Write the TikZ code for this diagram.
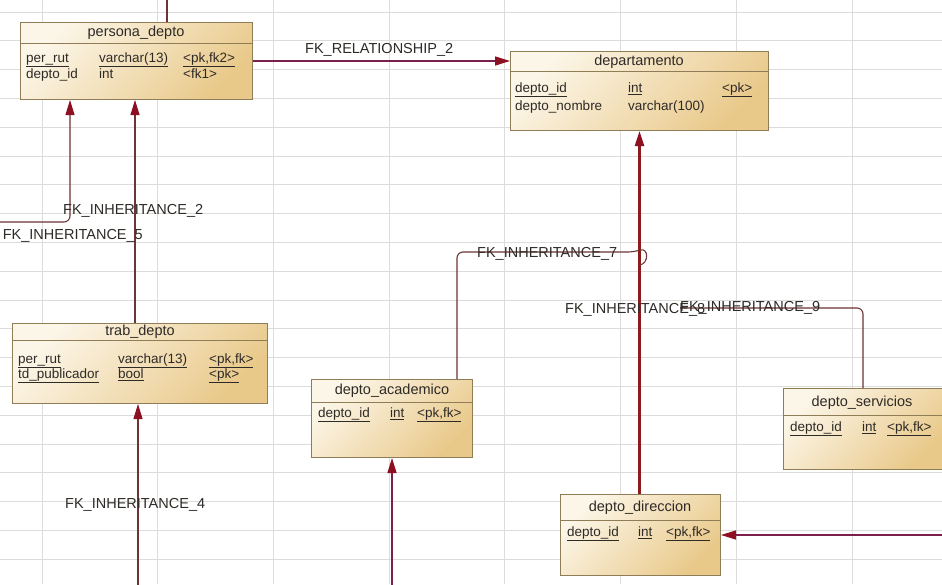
\documentclass[tikz,border=0pt]{standalone}
\usepackage{fontspec}
\setmainfont{Liberation Sans}
\usepackage{xcolor}
\usetikzlibrary{arrows.meta,calc}

\definecolor{rejilla}{HTML}{DCDCDC}
\definecolor{tabclaro}{HTML}{FCF6E8}
\definecolor{taboscuro}{HTML}{E9C98A}
\definecolor{tabborde}{HTML}{8E7D57}
\definecolor{texto}{HTML}{2E2A26}
\definecolor{relcol}{HTML}{7D1F4C}
\definecolor{hercol}{HTML}{6E3434}
\definecolor{gruesocol}{HTML}{8A1C1C}
\definecolor{puntacol}{HTML}{8C0F22}

\tikzset{
  tabla/.style={draw=tabborde, line width=1pt, top color=tabclaro, bottom color=taboscuro,
    shading angle=45, anchor=north west, inner sep=0pt},
  titulo/.style={text=texto, font=\fontsize{14.5}{15}\selectfont, inner sep=0pt},
  campo/.style={text=texto, font=\fontsize{13.5}{14}\selectfont, inner sep=0pt, anchor=west,
    text height=9.5pt, text depth=3pt},
  etiqueta/.style={text=texto, font=\fontsize{14.5}{15}\selectfont, inner sep=0pt},
  punta/.style={-{Triangle[width=9pt,length=15pt,color=puntacol]}},
  separa/.style={draw=tabborde, line width=0.8pt},
  rel/.style={draw=relcol, line width=1.4pt, punta},
  her/.style={draw=hercol, line width=1.1pt, rounded corners=6pt},
  grueso/.style={draw=gruesocol, line width=2.2pt, punta},
}

\begin{document}
\begin{tikzpicture}[x=1pt,y=-1pt]

% ============================================================
% marco y rejilla
% ============================================================

\useasboundingbox (0,0) rectangle (942,584);
\clip (0,0) rectangle (942,584);
\fill[white] (0,0) rectangle (942,584);

\def\FilaIni{12}     % primera linea horizontal
\def\FilaPaso{28.8}  % separacion vertical
\def\ColIni{42}      % primera linea vertical
\def\ColPaso{115.7}  % separacion horizontal

\foreach \k in {0,...,20} {
  \draw[rejilla, line width=0.8pt] (0,{\FilaIni+\FilaPaso*\k}) -- (942,{\FilaIni+\FilaPaso*\k});
}
\foreach \k in {0,...,7} {
  \draw[rejilla, line width=0.8pt] ({\ColIni+\ColPaso*\k},0) -- ({\ColIni+\ColPaso*\k},584);
}

% ============================================================
% persona_depto
% ============================================================

\node[tabla, minimum width=232pt, minimum height=77pt] (pd) at (20,22) {};
\draw[separa] (20,43) -- (252,43);
\node[titulo] (pdt) at (136,33) {persona\_depto};
\node[campo] (pd1) at (26,59) {\underline{per\_rut}};
\node[campo] (pd2) at (99,59) {\underline{varchar(13)}};
\node[campo] (pd3) at (183,59) {\underline{<pk,fk2>}};
\node[campo] (pd4) at (26,75) {depto\_id};
\node[campo] (pd5) at (99,75) {int};
\node[campo] (pd6) at (183,75) {<fk1>};

% ============================================================
% departamento
% ============================================================

\node[tabla, minimum width=258pt, minimum height=79pt] (dep) at (510,51) {};
\draw[separa] (510,71) -- (768,71);
\node[titulo] (dept) at (639,62) {departamento};
\node[campo] (dep1) at (515,89) {\underline{depto\_id}};
\node[campo] (dep2) at (628,89) {\underline{int}};
\node[campo] (dep3) at (722,89) {\underline{<pk>}};
\node[campo] (dep4) at (515,107) {depto\_nombre};
\node[campo] (dep5) at (628,107) {varchar(100)};

% ============================================================
% trab_depto
% ============================================================

\node[tabla, minimum width=255pt, minimum height=80pt] (td) at (12,323) {};
\draw[separa] (12,340) -- (267,340);
\node[titulo] (tdt) at (140,332) {trab\_depto};
\node[campo] (td1) at (18,360) {\underline{per\_rut}};
\node[campo] (td2) at (118,360) {\underline{varchar(13)}};
\node[campo] (td3) at (209,360) {\underline{<pk,fk>}};
\node[campo] (td4) at (18,375) {\underline{td\_publicador}};
\node[campo] (td5) at (118,375) {\underline{bool}};
\node[campo] (td6) at (209,375) {\underline{<pk>}};

% ============================================================
% depto_academico, depto_servicios, depto_direccion
% ============================================================

\node[tabla, minimum width=161pt, minimum height=78pt] (da) at (311,379) {};
\draw[separa] (311,402) -- (472,402);
\node[titulo] (dat) at (392,391) {depto\_academico};
\node[campo] (da1) at (318,414) {\underline{depto\_id}};
\node[campo] (da2) at (390,414) {\underline{int}};
\node[campo] (da3) at (417,414) {\underline{<pk,fk>}};

\node[tabla, minimum width=160pt, minimum height=81pt] (ds) at (783,388) {};
\draw[separa] (783,415) -- (943,415);
\node[titulo] (dst) at (862,403) {depto\_servicios};
\node[campo] (ds1) at (790,428) {\underline{depto\_id}};
\node[campo] (ds2) at (862,428) {\underline{int}};
\node[campo] (ds3) at (887,428) {\underline{<pk,fk>}};

\node[tabla, minimum width=160pt, minimum height=81pt] (dd) at (560,494) {};
\draw[separa] (560,520) -- (720,520);
\node[titulo] (ddt) at (640,508) {depto\_direccion};
\node[campo] (dd1) at (567,533) {\underline{depto\_id}};
\node[campo] (dd2) at (638,533) {\underline{int}};
\node[campo] (dd3) at (666,533) {\underline{<pk,fk>}};

% ============================================================
% relaciones
% ============================================================

\coordinate (arriba) at (167,-5);
\coordinate (fin5) at (-5,222);
\coordinate (abajo) at (0,590);
\coordinate (der) at (950,0);
\coordinate (salto7) at (634,252);
\coordinate (ini9) at (680,308);

\draw[rel] (pd.east) -- (pd.east -| dep.west);
\draw[her] (arriba) -- ([xshift=147pt]pd.north west);
\draw[her, punta] (fin5) -| ([xshift=50pt]pd.south west);
\draw[her, punta] ([xshift=123pt]td.north west) -- ([xshift=115pt]pd.south west);
\draw[her, punta] ([xshift=126pt]td.south west |- abajo) -- ([xshift=126pt]td.south west);
\draw[grueso] (dep.south |- dd.north) -- (dep.south);
\draw[her] ([xshift=146pt]da.north west) |- (salto7)
  .. controls (649,247) and (649,264) .. (dep.south |- 0,265);
\draw[her] ([xshift=80pt]ds.north west) |- (ini9);
\draw[rel] (dd.east -| der) -- (dd.east);
\draw[rel] (da.south |- abajo) -- (da.south);

% etiquetas
\node[etiqueta, anchor=west] (lr2) at (305,50) {FK\_RELATIONSHIP\_2};
\node[etiqueta, anchor=west] (li2) at (63,211) {FK\_INHERITANCE\_2};
\node[etiqueta, anchor=east] (li5) at (143,236) {FK\_INHERITANCE\_5};
\node[etiqueta, anchor=west] (li4) at (65,505) {FK\_INHERITANCE\_4};
\node[etiqueta, anchor=west] (li7) at (477,254) {FK\_INHERITANCE\_7};
\node[etiqueta, anchor=west] (li8) at (565,310) {FK\_INHERITANCE\_8};
\node[etiqueta, anchor=west] (li9) at (680,308) {FK\_INHERITANCE\_9};

\end{tikzpicture}
\end{document}
